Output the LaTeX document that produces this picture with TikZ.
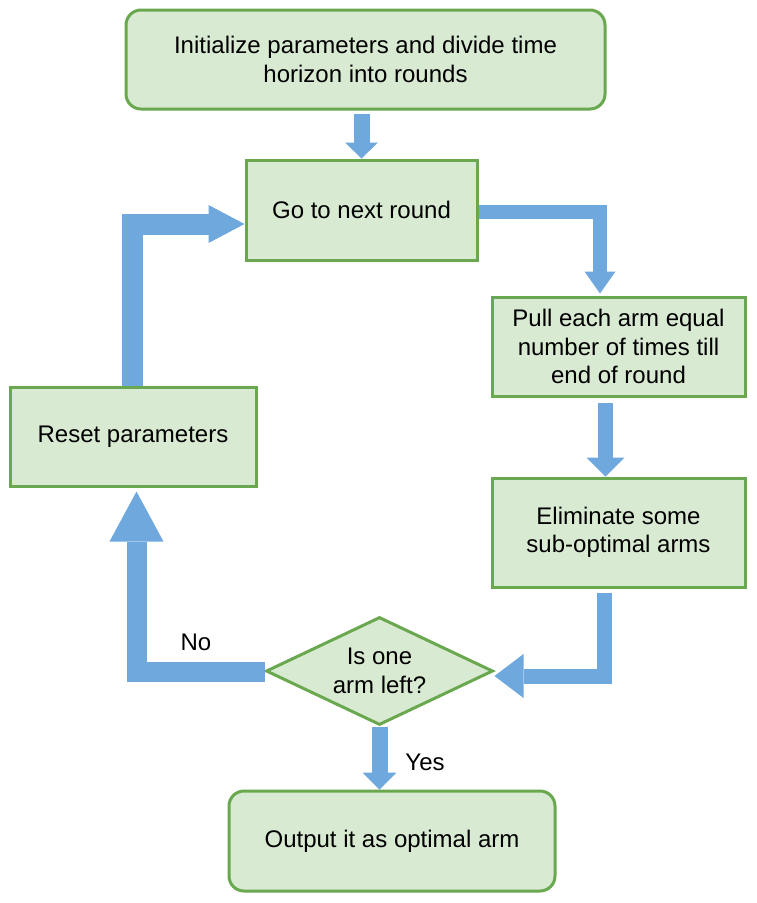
\documentclass[tikz,border=0pt]{standalone}
\usepackage{fontspec}
\setmainfont{Liberation Sans}
\usetikzlibrary{shapes.geometric,arrows.meta}
\definecolor{boxfill}{HTML}{D9EAD3}
\definecolor{boxline}{HTML}{6AA84F}
\definecolor{arrowblue}{HTML}{6FA8DC}
\tikzset{
  txt/.style={font=\fontsize{24}{28.5}\selectfont, text=black, align=center},
  boxnode/.style={txt, draw=boxline, fill=boxfill, line width=3pt, inner sep=0pt},
  rectbox/.style={boxnode, rectangle},
  roundbox/.style={boxnode, rectangle, rounded corners=15pt},
  decbox/.style={boxnode, diamond, aspect=2.1},
  lbl/.style={txt},
  flow/.style args={#1/#2/#3}{draw=arrowblue, line width=#1, line join=miter,
    -{Triangle[width=#2,length=#3,line width=0pt,round=false]}},
}
\begin{document}
\begin{tikzpicture}[x=1pt,y=-1pt]
\useasboundingbox (0,0) rectangle (757,903);
\node[roundbox, minimum width=479pt, minimum height=99pt] (init) at (365.5,59.5)
  {Initialize parameters and divide time\\horizon into rounds};
\node[rectbox, minimum width=231pt, minimum height=100pt] (go) at (361.5,210)
  {Go to next round};
\node[rectbox, minimum width=253pt, minimum height=99pt] (pull) at (618.5,346.5)
  {Pull each arm equal\\number of times till\\end of round};
\node[rectbox, minimum width=253pt, minimum height=109pt] (elim) at (618.5,532.5)
  {Eliminate some\\sub-optimal arms};
\node[rectbox, minimum width=246pt, minimum height=99pt] (reset) at (133,436.5)
  {Reset parameters};
\node[decbox, minimum width=227pt, minimum height=108pt] (dec) at (379.5,671)
  {Is one\\arm left?};
\node[roundbox, minimum width=326pt, minimum height=100pt] (out) at (392,841)
  {Output it as optimal arm};
\node[lbl] (no) at (196,642) {No};
\node[lbl] (yes) at (425,762) {Yes};
% connectors
\draw[flow={16pt/33pt/16pt}, shorten <=3pt] (go.north |- init.south) -- (go.north);
\draw[flow={14pt/31pt/22pt}, shorten >=2pt] ([yshift=-2pt]go.east) -| ([xshift=-18.5pt]pull.north);
\draw[flow={15pt/38pt/19pt}, shorten <=5pt] ([xshift=-13pt]pull.south) -- ([xshift=-13pt]elim.north);
\draw[flow={15pt/44pt/29pt}, shorten <=4pt] ([xshift=-14pt]elim.south) |- ([yshift=-5pt]dec.east);
\draw[flow={20pt/54pt/50pt}, shorten >=4pt] ([yshift=-1pt]dec.west) -| ([xshift=3.5pt]reset.south);
\draw[flow={21pt/38pt/36pt}] ([xshift=-0.5pt]reset.north) |- ([yshift=-14pt]go.west);
\draw[flow={16pt/34pt/17pt}] (dec.south) -- (dec.south |- out.north);
\end{tikzpicture}
\end{document}
